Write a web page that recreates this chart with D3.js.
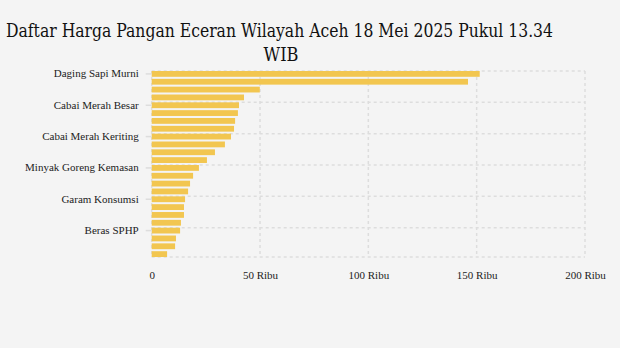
<!DOCTYPE html>
<html>
<head>
<meta charset="utf-8">
<script src="https://cdn.jsdelivr.net/npm/d3@7"></script>
<style>
html,body{margin:0;padding:0;background:#f4f4f4;}
svg{display:block;}
</style>
</head>
<body>
<svg id="chart" width="620" height="348"></svg>
<script>
const titleLines = ["Daftar Harga Pangan Eceran Wilayah Aceh 18 Mei 2025 Pukul 13.34", "WIB"];
const categories = [
  "Daging Sapi Murni", "Daging Kerbau Segar Lokal", "Cabai Rawit Merah", "Bawang Putih Bonggol",
  "Cabai Merah Besar", "Ikan Tongkol", "Daging Ayam Ras", "Ikan Kembung",
  "Cabai Merah Keriting", "Bawang Merah", "Telur Ayam Ras", "Ikan Bandeng",
  "Minyak Goreng Kemasan", "Gula Konsumsi", "Minyak Goreng Curah", "Minyakita",
  "Garam Konsumsi", "Beras Premium", "Tepung Terigu Kemasan", "Beras Medium",
  "Beras SPHP", "Kedelai Biji Kering (Impor)", "Tepung Terigu (Curah)", "Jagung Tk Peternak"
];
const prices = [
  151400, 146000, 49900, 42600,
  40300, 39800, 38500, 38000,
  36600, 33800, 29200, 25500,
  21800, 19100, 17700, 16800,
  15400, 14900, 14900, 13500,
  13100, 11200, 10800, 7100
];
const xTicks = [0, 50000, 100000, 150000, 200000];
const xTickLabels = ["0", "50 Ribu", "100 Ribu", "150 Ribu", "200 Ribu"];
const shownLabels = ["Daging Sapi Murni", "Cabai Merah Besar", "Cabai Merah Keriting", "Minyak Goreng Kemasan", "Garam Konsumsi", "Beras SPHP"];

(function () {
const svg = d3.select("#chart");
const pLeft = 151.7, pRight = 585, pTop = 71, pBottom = 257;

const x = d3.scaleLinear().domain([0, 200000]).range([pLeft, pRight]);
const y = d3.scaleBand().domain(categories).range([pTop, pBottom]).paddingInner(0.26).paddingOuter(0);

// title
const tf = "'DejaVu Serif Condensed', 'DejaVu Serif', serif";
svg.append("text").attr("font-family", tf).attr("font-size", 18).attr("fill", "#111")
  .attr("x", 6).attr("y", 37).attr("textLength", 547).attr("lengthAdjust", "spacingAndGlyphs").text(titleLines[0]);
svg.append("text").attr("font-family", tf).attr("font-size", 18).attr("fill", "#111")
  .attr("x", 281).attr("y", 61).attr("text-anchor", "middle").text(titleLines[1]);

const grid = svg.append("g").attr("stroke", "#dddddd").attr("stroke-width", 1.5).attr("stroke-dasharray", "3,3").attr("fill", "none");
grid.selectAll("line.v").data(xTicks).join("line").attr("class", "v")
  .attr("x1", d => x(d)).attr("x2", d => x(d)).attr("y1", pTop).attr("y2", pBottom);
const hY = shownLabels.map(c => y(c)).concat([pBottom]);
grid.selectAll("line.h").data(hY).join("line").attr("class", "h")
  .attr("x1", pLeft).attr("x2", pRight).attr("y1", d => d).attr("y2", d => d);

// bars
svg.append("g").selectAll("rect").data(categories).join("rect")
  .attr("x", x(0))
  .attr("y", d => y(d))
  .attr("width", (d, i) => x(prices[i]) - x(0))
  .attr("height", y.bandwidth())
  .attr("fill", "#f2c650");

// y axis
const yAxis = d3.axisLeft(y).tickValues(shownLabels).tickSize(6).tickPadding(7);
const yg = svg.append("g").attr("transform", `translate(${pLeft},0)`).call(yAxis);
yg.select(".domain").remove();
yg.selectAll(".tick line").attr("stroke", "#dddddd").attr("stroke-width", 1.5);
yg.selectAll(".tick text").attr("font-family", "'Liberation Serif', serif").attr("font-size", 11).attr("fill", "#222");

// x axis
const xAxis = d3.axisBottom(x).tickValues(xTicks).tickFormat((d, i) => xTickLabels[i]).tickSize(0).tickPadding(14);
const xg = svg.append("g").attr("transform", `translate(0,${pBottom})`).call(xAxis);
xg.select(".domain").remove();
xg.selectAll(".tick text").attr("font-family", "'Liberation Serif', serif").attr("font-size", 11).attr("fill", "#222");
})();
</script>
</body>
</html>
